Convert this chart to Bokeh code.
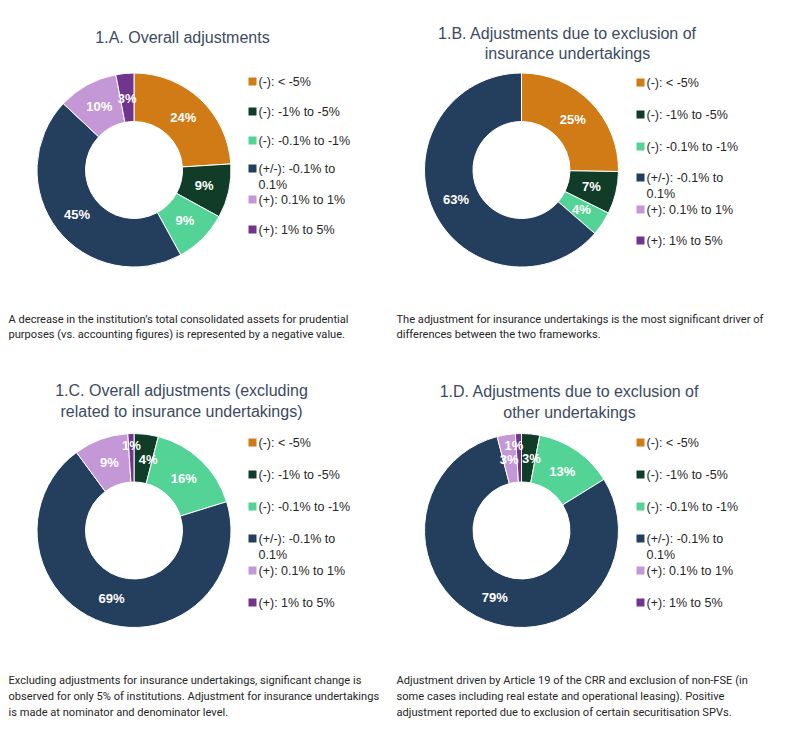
import numpy as np
from bokeh.plotting import figure
from bokeh.models import Range1d, ColumnDataSource
from bokeh.core.properties import value
from bokeh.embed import file_html
from bokeh.resources import INLINE

# ---------------- data ----------------
categories = ["(-): < -5%", "(-): -1% to -5%", "(-): -0.1% to -1%",
              "(+/-): -0.1% to 0.1%", "(+): 0.1% to 1%", "(+): 1% to 5%"]
legend_lines = [["(-): < -5%"], ["(-): -1% to -5%"], ["(-): -0.1% to -1%"],
                ["(+/-): -0.1% to", "0.1%"], ["(+): 0.1% to 1%"], ["(+): 1% to 5%"]]
colors = ["#D17B17", "#113D28", "#54D396", "#243E5D", "#C498D6", "#6F358F"]

values_a = [24, 9, 9, 45, 10, 3]
values_b = [25, 7, 4, 63, 0, 0]
values_c = [0, 4, 16, 69, 9, 1]
values_d = [0, 3, 13, 79, 3, 1]

title_a = ["1.A. Overall adjustments"]
title_b = ["1.B. Adjustments due to exclusion of", "insurance undertakings"]
title_c = ["1.C. Overall adjustments (excluding", "related to insurance undertakings)"]
title_d = ["1.D. Adjustments due to exclusion of", "other undertakings"]

caption_a = ["A decrease in the institution\u2019s total consolidated assets for prudential",
             "purposes (vs. accounting figures) is represented by a negative value."]
caption_b = ["The adjustment for insurance undertakings is the most significant driver of",
             "differences between the two frameworks."]
caption_c = ["Excluding adjustments for insurance undertakings, significant change is",
             "observed for only 5% of institutions. Adjustment for insurance undertakings",
             "is made at nominator and denominator level."]
caption_d = ["Adjustment driven by Article 19 of the CRR and exclusion of non-FSE (in",
             "some cases including real estate and operational leasing). Positive",
             "adjustment reported due to exclusion of certain securitisation SPVs."]

# ---------------- layout ----------------
W, H = 794, 729
def Y(py):
    return H - py

p = figure(width=W, height=H, output_backend="svg", toolbar_location=None,
           x_range=Range1d(0, W), y_range=Range1d(0, H), min_border=0)
p.axis.visible = False
p.grid.visible = False
p.outline_line_color = None
p.background_fill_color = "white"
p.border_fill_color = "white"

TITLE_FONT = value("Liberation Sans")
BODY_FONT = value("Liberation Sans")
CAPTION_FONT = value("Roboto")

panels = [
    dict(vals=values_a, title=title_a, cx=133.5, cy=169.5, tx=182, ty=[37],
         lx=248, ly=[81, 111, 140, 168, 199, 229], nudge={}),
    dict(vals=values_b, title=title_b, cx=521, cy=169.5, tx=567, ty=[33, 53],
         lx=636, ly=[82, 114, 146, 177, 209, 240], nudge={}),
    dict(vals=values_c, title=title_c, cx=133.5, cy=530, tx=181, ty=[390, 411],
         lx=248, ly=[442, 474, 506, 538, 570, 602], nudge={1: 5}),
    dict(vals=values_d, title=title_d, cx=521, cy=530, tx=569, ty=[391, 412],
         lx=636, ly=[442, 474, 506, 538, 570, 602], nudge={1: 3, 4: -1, 5: -5}),
]
R_OUT, R_IN = 97, 48.5

for pn in panels:
    vals = np.array(pn["vals"], dtype=float)
    frac = vals / vals.sum()
    cum_end = np.cumsum(frac)
    cum_start = cum_end - frac
    keep = vals > 0
    start = np.pi / 2 - 2 * np.pi * cum_end
    end = np.pi / 2 - 2 * np.pi * cum_start
    src = ColumnDataSource(dict(
        x=[pn["cx"]] * int(keep.sum()), y=[Y(pn["cy"])] * int(keep.sum()),
        s=list(start[keep]), e=list(end[keep]),
        c=[colors[i] for i in range(len(vals)) if keep[i]]))
    p.annular_wedge(x="x", y="y", inner_radius=R_IN, outer_radius=R_OUT,
                    start_angle="s", end_angle="e", direction="anticlock",
                    fill_color="c", line_color="white", line_width=1, source=src)
    # data labels
    mid = np.pi / 2 - 2 * np.pi * (cum_start + cum_end) / 2
    rl = np.where(vals < 2, 85, 72)
    lx = pn["cx"] + rl * np.cos(mid)
    lx = lx + np.array([pn["nudge"].get(i, 0) for i in range(len(vals))])
    ly = Y(pn["cy"]) + rl * np.sin(mid)
    lsrc = ColumnDataSource(dict(x=list(lx[keep]), y=list(ly[keep]),
                                 t=["%d%%" % v for v in vals[keep]]))
    p.text(x="x", y="y", text="t", source=lsrc, text_color="white",
           text_font=BODY_FONT, text_font_style="bold", text_font_size="13px",
           text_align="center", text_baseline="middle")
    # title
    p.text(x=[pn["tx"]] * len(pn["title"]), y=[Y(t) for t in pn["ty"]],
           text=pn["title"], text_color="#3B4A5F", text_font=TITLE_FONT,
           text_font_size="16px", text_align="center", text_baseline="middle")
    # legend
    sq = ColumnDataSource(dict(x=[pn["lx"] + 4] * 6, y=[Y(v) for v in pn["ly"]], c=colors))
    p.rect(x="x", y="y", width=8, height=8, fill_color="c", line_color=None, source=sq)
    tx, ty, tt = [], [], []
    for i, lines in enumerate(legend_lines):
        for j, ln in enumerate(lines):
            tx.append(pn["lx"] + 10)
            ty.append(Y(pn["ly"][i] + 16 * j))
            tt.append(ln)
    p.text(x=tx, y=ty, text=tt, text_color="#262626", text_font=BODY_FONT,
           text_font_size="12.5px", text_align="left", text_baseline="middle")

captions = [(caption_a, 8, [319, 334]), (caption_b, 396, [319, 334]),
            (caption_c, 8, [680, 696, 712]), (caption_d, 396, [680, 696, 712])]
for lines, x0, ys in captions:
    p.text(x=[x0] * len(lines), y=[Y(v) for v in ys], text=lines,
           text_color="#262626", text_font=CAPTION_FONT, text_font_size="11.1px",
           text_align="left", text_baseline="middle")

open("out.html", "w").write(file_html(p, INLINE))
